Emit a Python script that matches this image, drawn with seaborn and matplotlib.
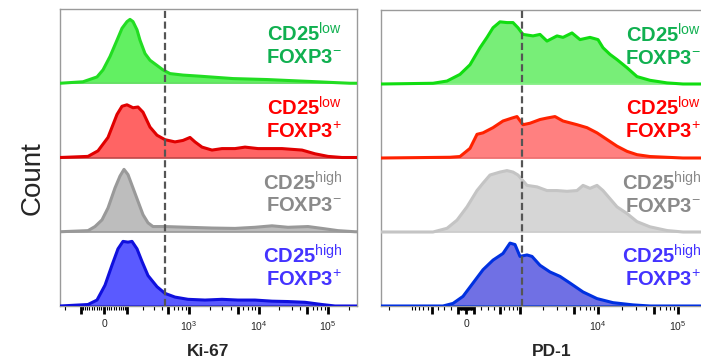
import numpy as np
import pandas as pd
import matplotlib
matplotlib.use("Agg")
import matplotlib.pyplot as plt
import seaborn as sns

sns.set_theme(style="white")
plt.rcParams['font.family'] = ['Liberation Sans', 'DejaVu Sans']
plt.rcParams['mathtext.fontset'] = 'custom'
plt.rcParams['mathtext.rm'] = 'Liberation Sans'
plt.rcParams['mathtext.bf'] = 'Liberation Sans:bold'
plt.rcParams['mathtext.it'] = 'Liberation Sans:italic'
plt.rcParams['mathtext.default'] = 'regular'

# ---------------- data (display channel units, normalized counts) ----------------
populations = ["CD25low FOXP3-", "CD25low FOXP3+", "CD25high FOXP3-", "CD25high FOXP3+"]
label_texts = [
    r"$\mathbf{CD25}^{\mathrm{low}}$" + "\n" + r"$\mathbf{FOXP3}^{\mathrm{-}}$",
    r"$\mathbf{CD25}^{\mathrm{low}}$" + "\n" + r"$\mathbf{FOXP3}^{\mathrm{+}}$",
    r"$\mathbf{CD25}^{\mathrm{high}}$" + "\n" + r"$\mathbf{FOXP3}^{\mathrm{-}}$",
    r"$\mathbf{CD25}^{\mathrm{high}}$" + "\n" + r"$\mathbf{FOXP3}^{\mathrm{+}}$",
]

# Ki-67
ki67_green_x = [0, 23, 37, 43, 50, 57, 62, 67, 70, 73, 77, 80, 85, 90, 97, 103, 110, 123, 140, 173, 207, 240, 257, 273, 290, 297]
ki67_green_y = [0, 0.02, 0.085, 0.18, 0.36, 0.58, 0.74, 0.83, 0.86, 0.83, 0.72, 0.58, 0.40, 0.31, 0.24, 0.18, 0.13, 0.11, 0.095, 0.063, 0.05, 0.03, 0.02, 0.01, 0, 0]
ki67_red_x = [0, 28, 38, 48, 57, 62, 67, 73, 78, 83, 90, 97, 105, 115, 123, 130, 135, 142, 152, 162, 175, 185, 198, 222, 242, 255, 268, 282, 297]
ki67_red_y = [0, 0.015, 0.09, 0.27, 0.58, 0.69, 0.71, 0.67, 0.68, 0.61, 0.41, 0.30, 0.24, 0.21, 0.23, 0.27, 0.21, 0.14, 0.10, 0.12, 0.12, 0.14, 0.12, 0.12, 0.10, 0.05, 0.015, 0, 0]
ki67_gray_x = [0, 28, 35, 42, 48, 55, 60, 64, 68, 73, 78, 83, 88, 93, 105, 128, 152, 175, 195, 212, 228, 248, 262, 278, 295, 297]
ki67_gray_y = [0, 0.015, 0.07, 0.16, 0.32, 0.59, 0.75, 0.84, 0.77, 0.59, 0.41, 0.23, 0.12, 0.07, 0.07, 0.06, 0.05, 0.045, 0.06, 0.08, 0.06, 0.07, 0.045, 0.015, 0, 0]
ki67_blue_x = [0, 28, 37, 45, 52, 58, 63, 68, 72, 77, 82, 88, 97, 105, 115, 128, 145, 162, 178, 195, 212, 228, 245, 262, 275, 297]
ki67_blue_y = [0, 0.02, 0.08, 0.28, 0.55, 0.77, 0.87, 0.86, 0.87, 0.77, 0.60, 0.41, 0.26, 0.17, 0.12, 0.09, 0.08, 0.09, 0.08, 0.08, 0.065, 0.06, 0.05, 0.02, 0, 0]

# PD-1
pd1_green_x = [0, 52, 66, 79, 89, 99, 106, 112, 119, 126, 132, 137, 142, 152, 159, 166, 176, 182, 191, 199, 209, 217, 222, 229, 236, 246, 256, 269, 286, 302, 342]
pd1_green_y = [0, 0.01, 0.04, 0.13, 0.26, 0.49, 0.63, 0.76, 0.84, 0.83, 0.83, 0.76, 0.67, 0.65, 0.67, 0.58, 0.65, 0.63, 0.69, 0.60, 0.63, 0.60, 0.49, 0.40, 0.33, 0.22, 0.10, 0.05, 0.015, 0, 0]
pd1_red_x = [0, 69, 79, 89, 96, 102, 112, 122, 131, 136, 142, 149, 159, 166, 174, 182, 196, 206, 216, 226, 236, 246, 256, 269, 302, 342]
pd1_red_y = [0, 0.01, 0.02, 0.13, 0.32, 0.34, 0.41, 0.50, 0.54, 0.56, 0.45, 0.47, 0.52, 0.54, 0.56, 0.50, 0.45, 0.41, 0.34, 0.25, 0.16, 0.09, 0.045, 0.02, 0, 0]
pd1_gray_x = [0, 52, 66, 76, 86, 96, 102, 109, 119, 126, 132, 137, 146, 156, 166, 176, 186, 196, 202, 209, 216, 222, 229, 236, 246, 256, 269, 286, 302, 342]
pd1_gray_y = [0, 0, 0.05, 0.16, 0.34, 0.56, 0.66, 0.77, 0.81, 0.83, 0.81, 0.77, 0.63, 0.61, 0.56, 0.56, 0.55, 0.56, 0.63, 0.59, 0.63, 0.56, 0.45, 0.34, 0.25, 0.14, 0.07, 0.02, 0, 0]
pd1_blue_x = [0, 62, 72, 82, 92, 102, 112, 122, 129, 134, 139, 146, 151, 159, 169, 179, 189, 202, 216, 232, 252, 269, 342]
pd1_blue_y = [0, 0, 0.035, 0.13, 0.31, 0.49, 0.62, 0.71, 0.85, 0.83, 0.67, 0.69, 0.67, 0.55, 0.46, 0.40, 0.31, 0.19, 0.10, 0.045, 0.015, 0, 0]

gate_ki67 = 105   # dashed gate position (channel)
gate_pd1 = 141

tick_values_major = [-500, -100, 0, 100, 500, 1e3, 5e3, 1e4, 5e4, 1e5]
ki67_tick_labels = {0: "0", 1e3: r"$10^{3}$", 1e4: r"$10^{4}$", 1e5: r"$10^{5}$"}
pd1_tick_labels = {0: "0", 1e4: r"$10^{4}$", 1e5: r"$10^{5}$"}
tick_values_minor = ([s * v for s in (-1, 1) for v in range(10, 100, 10)]
                     + [s * v for s in (-1, 1) for v in (200, 300, 400, 600, 700, 800, 900)]
                     + [-1000, -2000, -3000]
                     + [m * 10 ** e for e in (3, 4, 5) for m in (2, 3, 4, 6, 7, 8, 9)])

# ---------------- styling ----------------
fill_left = ["#62f062", "#ff6464", "#bdbdbd", "#5a5aff"]
line_left = ["#22dd22", "#e00000", "#999999", "#1010dd"]
base_left = ["#66dd66", "#c04848", "#9a9a9a", "#1010dd"]
fill_right = ["#78ee78", "#ff8080", "#d6d6d6", "#7070e4"]
line_right = ["#11dd11", "#ff2200", "#c4c4c4", "#0030e0"]
base_right = ["#88ee88", "#ee7070", "#cccccc", "#0030e0"]
text_colors = ["#10b050", "#ff0000", "#8a8a8a", "#4433ff"]

W, H = 701, 362
fig = plt.figure(figsize=(W / 100, H / 100), dpi=100)
axL = fig.add_axes([60 / W, 56 / H, 297 / W, 297 / H])
axR = fig.add_axes([381 / W, 56 / H, 342 / W, 296 / H])


def chan(v, ch0, b, c):
    return ch0 + b * np.arcsinh(np.asarray(v, dtype=float) / c)


def draw_panel(ax, xs, ys, fills, lines, bases, xmax, gate, axis_par, tick_labels, label_shift):
    rows = []
    for i, (x, y) in enumerate(zip(xs, ys)):
        base = 3 - i
        rows.append(pd.DataFrame({"channel": x, "count": np.array(y) + base,
                                  "population": populations[i]}))
    df = pd.concat(rows, ignore_index=True)
    for i, pop in enumerate(populations):
        base = 3 - i
        sub = df[df["population"] == pop]
        ax.fill_between(sub["channel"], base, sub["count"], color=fills[i], lw=0, zorder=1)
        ax.axhline(base, color=bases[i], lw=1.2, zorder=2)
    sns.lineplot(data=df, x="channel", y="count", hue="population",
                 palette=dict(zip(populations, lines)), estimator=None, sort=False,
                 legend=False, lw=2.2, ax=ax, zorder=3, solid_joinstyle="round")
    ax.axvline(gate, color="#555555", lw=1.6, dashes=(3.2, 1.6), zorder=4)
    ax.set_xlim(0, xmax)
    ax.set_ylim(0, 4)
    ax.set_yticks([])
    ax.set_ylabel("")
    ax.set_xlabel("")
    for sp in ax.spines.values():
        sp.set_color("#9a9a9a")
        sp.set_linewidth(1.0)
        sp.set_visible(True)
    # biexponential-style ticks
    ch0, b, c = axis_par
    maj = [v for v in tick_values_major if 0 <= chan(v, ch0, b, c) <= xmax]
    mino = [v for v in tick_values_minor if 0 <= chan(v, ch0, b, c) <= xmax]
    ax.set_xticks(chan(maj, ch0, b, c), [tick_labels.get(v, "") for v in maj])
    ax.set_xticks(chan(mino, ch0, b, c), minor=True)
    ax.tick_params(axis="x", which="major", direction="out", length=6, width=2.0,
                   color="black", labelsize=7.5, pad=3.5, bottom=True)
    ax.tick_params(axis="x", which="minor", direction="out", length=2.8, width=0.8,
                   color="black", bottom=True)
    for i in range(4):
        ax.annotate(label_texts[i], xy=(1, 3 - i + 0.52), xycoords=("axes fraction", "data"),
                    xytext=(label_shift * 0.72, 0), textcoords="offset points", ha="right", va="center",
                    multialignment="right", fontsize=14.5, color=text_colors[i], zorder=5,
                    linespacing=1.15, annotation_clip=False)


draw_panel(axL, [ki67_green_x, ki67_red_x, ki67_gray_x, ki67_blue_x],
           [ki67_green_y, ki67_red_y, ki67_gray_y, ki67_blue_y],
           fill_left, line_left, base_left, 297, gate_ki67, (44, 30.2, 120), ki67_tick_labels, -15)
draw_panel(axR, [pd1_green_x, pd1_red_x, pd1_gray_x, pd1_blue_x],
           [pd1_green_y, pd1_red_y, pd1_gray_y, pd1_blue_y],
           fill_right, line_right, base_right, 342, gate_pd1, (85, 34.7, 444), pd1_tick_labels, -22)

fig.text(208.5 / W, 1 - 352 / H, "Ki-67", ha="center", va="center", fontsize=12.5, fontweight="bold")
fig.text(552 / W, 1 - 352 / H, "PD-1", ha="center", va="center", fontsize=12.5, fontweight="bold")
fig.text(33 / W, 1 - 178 / H, "Count", ha="center", va="center", rotation=90, fontsize=20)

fig.savefig("out.png", dpi=100)
